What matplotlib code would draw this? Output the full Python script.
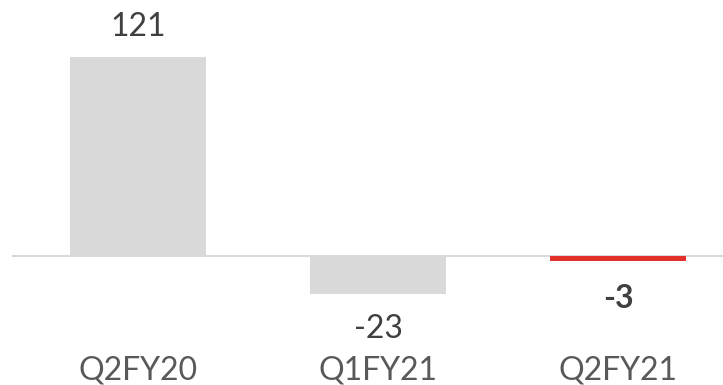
import matplotlib
matplotlib.use("Agg")
import matplotlib.pyplot as plt

# chart data
categories = ["Q2FY20", "Q1FY21", "Q2FY21"]
values = [121, -23, -3]
bar_colors = ["#d9d9d9", "#d9d9d9", "#e3302a"]
label_bold = [False, False, True]

plt.rcParams["font.family"] = ["Lato", "DejaVu Sans"]

fig = plt.figure(figsize=(7.23, 3.85), dpi=100)
ax = fig.add_axes([0, 0, 1, 1])

x = list(range(len(categories)))
ax.bar(x, values, width=0.57, color=bar_colors, zorder=2)
ax.axhline(0, xmin=0.018, xmax=1, color="#d9d9d9", linewidth=1.5, zorder=1)

ax.set_xlim(-0.575, 2.4375)
ax.set_ylim(-78.4, 155.6)
ax.axis("off")

# value labels
for xi, v, bold in zip(x, values, label_bold):
    if v >= 0:
        off = 30
    elif bold:
        off = -38
    else:
        off = -35
    ax.annotate(str(v), (xi, v), xytext=(0, off), textcoords="offset pixels",
                ha="center", va="center", fontsize=23, color="#404040",
                fontweight="bold" if bold else "normal")

# category labels
for xi, c in zip(x, categories):
    ax.text(xi, -69.5, c, ha="center", va="center", fontsize=23, color="#595959")

fig.savefig("out.png", dpi=100)
